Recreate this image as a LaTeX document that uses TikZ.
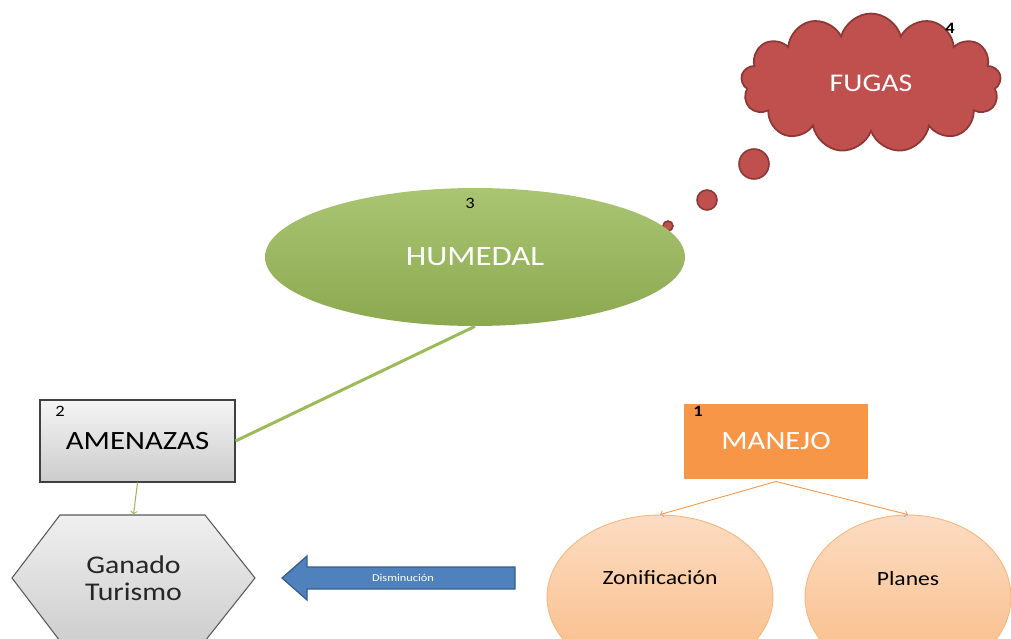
\documentclass[tikz,border=0pt]{standalone}
\usepackage{fontspec}
\setmainfont{Carlito}
\usepackage{graphicx}
\usetikzlibrary{shapes.geometric,shapes.symbols,shadows}

\definecolor{humgreen}{HTML}{9BBB59}
\definecolor{fugred}{HTML}{C0504D}
\definecolor{fugedge}{HTML}{8C3836}
\definecolor{manorange}{HTML}{F79646}
\definecolor{peachtop}{HTML}{FCDCC2}
\definecolor{peachbot}{HTML}{F9BB85}
\definecolor{dimblue}{HTML}{4F81BD}
\definecolor{dimedge}{HTML}{385D8A}

\newcommand{\wide}[1]{\scalebox{1.17}[1]{#1}}
\newcommand{\fs}[1]{\fontsize{#1}{1.2\dimexpr#1pt\relax}\selectfont}

\tikzset{
    numtag/.style={font=\fs{9}, text=black},
    bubble/.style={circle, fill=fugred, draw=fugedge, line width=0.9pt, inner sep=0pt},
    graybox/.style={rectangle, draw=black!75, top color=gray!8, bottom color=gray!40, line width=0.6pt},
    peach/.style={ellipse, draw=manorange!70, top color=peachtop, bottom color=peachbot, line width=0.5pt,
        minimum height=3.28cm, text depth=0.76cm, font=\fs{11.5}},
}

\begin{document}
\begin{tikzpicture}[x=0.02cm, y=-0.02cm]
        \useasboundingbox (0,0) rectangle (1011,639);
        \clip (0,0) rectangle (1011,639);

        % thought bubbles
        \node[bubble, minimum size=0.2cm] (b1) at (668, 226) {};
        \node[bubble, minimum size=0.4cm] (b2) at (707, 200) {};
        \node[bubble, minimum size=0.6cm] (b3) at (754, 164) {};
        \node[cloud, cloud puffs=13, aspect=1.9, fill=fugred, draw=fugedge, line width=1pt,
              minimum width=5.2cm, minimum height=2.78cm, text=white, font=\fs{14.5}]
              (fugas) at (871, 83) {\wide{FUGAS}};
        \node[numtag] (num4) at (950, 28) {\wide{\bfseries 4}};

        % wetland
        \node[ellipse, top color=humgreen!85!white, bottom color=humgreen!90!black,
              minimum width=8.4cm, minimum height=2.76cm, text=white, font=\fs{16}]
              (humedal) at (475, 257) {\wide{HUMEDAL}};
        \node[numtag] (num3) at (470, 203) {\wide{3}};

        % threats
        \node[graybox, minimum width=3.9cm, minimum height=1.64cm, font=\fs{15}]
              (amenazas) at (137.5, 441) {\wide{AMENAZAS}};
        \node[numtag] (num2) at (60, 411) {\wide{2}};

        \path[top color=gray!12, bottom color=gray!38, draw=black!65, line width=0.6pt]
            (12, 578) -- (60, 515) -- (205, 515) -- (255, 578) -- (205, 641) -- (60, 641) -- cycle;
        \node[minimum width=4.86cm, minimum height=2.52cm, align=center, font=\fs{14.5},
              text=black!85] (ganado) at (133.5, 578) {\wide{Ganado}\\[-2pt]\wide{Turismo}};

        \draw[humgreen, line width=1.7pt] (humedal.south) -- (amenazas.east);
        \draw[humgreen, line width=0.6pt, ->] (amenazas.south) -- (ganado.north);

        % decrease arrow
        \path[fill=dimblue, draw=dimedge, line width=0.7pt]
            (282, 578) -- (307, 556) -- (307, 567) -- (515, 567) -- (515, 589)
            -- (307, 589) -- (307, 600) -- cycle;
        \node[text=white, font=\fs{6}] (dism) at (403, 578) {\wide{Disminución}};

        % management
        \node[rectangle, fill=manorange, draw=white, line width=1.7pt, minimum width=3.76cm,
              minimum height=1.56cm, text=white, font=\fs{15},
              drop shadow={opacity=0.35, shadow xshift=0.8pt, shadow yshift=-0.8pt}]
              (manejo) at (776, 441) {\wide{MANEJO}};
        \node[numtag] (num1) at (698, 411) {\wide{\bfseries 1}};

        \node[peach, minimum width=4.52cm] (zonif) at (660, 597) {\wide{Zonificación}};
        \node[peach, minimum width=4.12cm] (planes) at (908, 597) {\wide{Planes}};

        \draw[manorange, line width=0.5pt, ->] (manejo.south) -- (zonif.north);
        \draw[manorange, line width=0.5pt, ->] (manejo.south) -- (planes.north);
    \end{tikzpicture}
\end{document}
